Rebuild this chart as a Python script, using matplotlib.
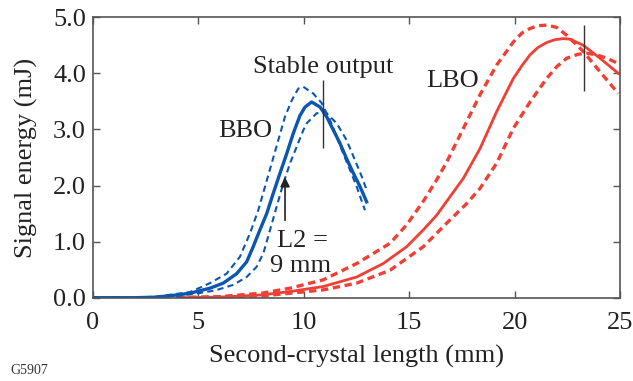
import matplotlib
matplotlib.use('Agg')
from matplotlib import pyplot as plt

# BBO curves
bbo_x = [0, 2, 3, 4, 4.6, 5.55, 6.18, 6.82, 7.29, 7.6, 7.92, 8.24, 8.55, 8.87, 9.19, 9.5, 9.82, 10.06,
         10.37, 10.77, 11.08, 11.4, 11.72, 12.03, 12.35, 12.67, 12.98]
bbo_y = [0, 0, 0.01, 0.05, 0.08, 0.17, 0.26, 0.43, 0.64, 0.91, 1.21, 1.5, 1.86, 2.22, 2.57, 2.93, 3.25, 3.4,
         3.49, 3.4, 3.23, 2.99, 2.75, 2.48, 2.22, 1.98, 1.71]

bbo_hi_x = [0, 2, 3, 4, 4.6, 5.55, 6.34, 6.97, 7.45, 7.84, 8.16, 8.48, 8.79, 9.11, 9.43, 9.74, 9.98,
            10.45, 10.85, 11.24, 11.56, 11.87, 12.19, 12.51, 12.9]
bbo_hi_y = [0, 0, 0.02, 0.07, 0.1, 0.26, 0.43, 0.73, 1.15, 1.56, 1.98, 2.4, 2.81, 3.23, 3.52, 3.73, 3.76,
            3.64, 3.47, 3.17, 2.87, 2.57, 2.28, 1.98, 1.56]

bbo_lo_x = [0, 2, 3, 4, 5.0, 5.8, 6.66, 7.29, 7.76, 8.08, 8.4, 8.71, 9.03, 9.35, 9.66, 9.98, 10.14,
            10.61, 11.08, 11.56, 12.03, 12.43, 12.75, 12.98]
bbo_lo_y = [0, 0, 0.01, 0.03, 0.08, 0.13, 0.23, 0.37, 0.55, 0.79, 1.21, 1.62, 2.04, 2.4, 2.69, 2.99, 3.11,
            3.29, 3.29, 3.11, 2.81, 2.45, 2.16, 1.92]

# LBO curves
lbo_x = [4, 6, 8, 9.35, 10.93, 12.51, 13.77, 14.88, 15.67, 16.3, 16.78, 17.57, 18.36, 19.15, 19.94,
         20.35, 20.73, 21.1, 21.52, 21.9, 22.3, 22.63, 23.26, 24.05, 24.92]
lbo_y = [0, 0.01, 0.05, 0.11, 0.2, 0.37, 0.61, 0.91, 1.21, 1.47, 1.72, 2.13, 2.66, 3.32, 3.91,
         4.14, 4.33, 4.46, 4.55, 4.6, 4.62, 4.61, 4.5, 4.27, 4.0]

lbo_hi_x = [4, 6, 8, 9.35, 10.93, 12.51, 14.09, 14.88, 15.67, 16.3, 16.78, 17.57, 18.36, 19.15, 19.94,
            20.35, 20.73, 21.1, 21.52, 22.0, 22.47, 23.26, 24.05, 24.92]
lbo_hi_y = [0, 0.02, 0.08, 0.17, 0.32, 0.61, 0.97, 1.3, 1.72, 2.1, 2.42, 3.02, 3.62, 4.15, 4.56,
            4.72, 4.8, 4.85, 4.86, 4.82, 4.68, 4.39, 4.03, 3.64]

lbo_lo_x = [4, 6, 8, 9.35, 10.93, 12.51, 14.09, 15.67, 16.78, 17.73, 18.36, 19.15, 19.94, 20.73,
            21.52, 22.0, 22.47, 23.0, 23.42, 23.9, 24.37, 24.9]
lbo_lo_y = [0, 0.01, 0.03, 0.08, 0.14, 0.26, 0.49, 0.91, 1.33, 1.68, 1.95, 2.4, 3.02, 3.49,
            3.91, 4.12, 4.27, 4.34, 4.36, 4.33, 4.27, 4.18]

# stable-output markers (x, ymin, ymax)
bbo_mark = [10.93, 2.67, 3.88]
lbo_mark = [23.27, 3.68, 4.86]

xticks = [0, 5, 10, 15, 20, 25]
yticks = [0.0, 1.0, 2.0, 3.0, 4.0, 5.0]

blue = '#0a56b0'
red = '#f04035'
ink = '#222222'

plt.rcParams['font.family'] = ['Liberation Serif', 'DejaVu Serif']
plt.rcParams['lines.solid_joinstyle'] = 'round'
plt.rcParams['lines.dash_joinstyle'] = 'round'
fig = plt.figure(figsize=(6.33, 3.81), dpi=100)
ax = fig.add_axes([0.1469, 0.2186, 0.8326, 0.736])

ax.plot(lbo_hi_x, lbo_hi_y, color=red, lw=2.4, ls=(0, (2.2, 1.4)))
ax.plot(lbo_lo_x, lbo_lo_y, color=red, lw=2.4, ls=(0, (2.2, 1.4)))
ax.plot(lbo_x, lbo_y, color=red, lw=2.0)

ax.plot(bbo_hi_x, bbo_hi_y, color=blue, lw=1.5, ls=(0, (3, 2)))
ax.plot(bbo_lo_x, bbo_lo_y, color=blue, lw=1.5, ls=(0, (3, 2)))
ax.plot(bbo_x, bbo_y, color=blue, lw=2.4)

ax.vlines(bbo_mark[0], bbo_mark[1], bbo_mark[2], colors='#333333', lw=1.0)
ax.vlines(lbo_mark[0], lbo_mark[1], lbo_mark[2], colors='#333333', lw=1.0)

ax.annotate('', xy=(9.11, 2.2), xytext=(9.11, 1.33),
            arrowprops=dict(arrowstyle='-|>', color=ink, lw=1.2, mutation_scale=14))

fs = 19
ax.text(10.91, 4.0, 'Stable output', fontsize=fs, ha='center', va='baseline', color=ink)
ax.text(5.93, 2.86, 'BBO', fontsize=fs, ha='left', va='baseline', color=ink)
ax.text(15.83, 3.76, 'LBO', fontsize=fs, ha='left', va='baseline', color=ink)
ax.text(8.71, 0.91, 'L2 =', fontsize=fs, ha='left', va='baseline', color=ink)
ax.text(8.4, 0.46, '9 mm', fontsize=fs, ha='left', va='baseline', color=ink)

ax.set_xlim(0, 25)
ax.set_ylim(0, 5)
ax.set_xticks(xticks)
ax.set_yticks(yticks)
ax.set_xticklabels([str(t) for t in xticks])
ax.set_yticklabels(['%.1f' % t for t in yticks])
ax.tick_params(direction='in', length=5, width=1, color='#555555', labelsize=fs,
               top=True, right=True, labelcolor=ink)
ax.tick_params(axis='x', pad=10)
ax.tick_params(axis='y', pad=5)
for s in ax.spines.values():
    s.set_color('#555555')
    s.set_linewidth(1.2)

ax.set_xlabel('Second-crystal length (mm)', fontsize=fs, color=ink, labelpad=8)
ax.set_ylabel('Signal energy (mJ)', fontsize=fs, color=ink, labelpad=11)
fig.text(0.016, 0.018, 'G5907', fontsize=10, color='#333333')

fig.savefig('out.png', dpi=100)
